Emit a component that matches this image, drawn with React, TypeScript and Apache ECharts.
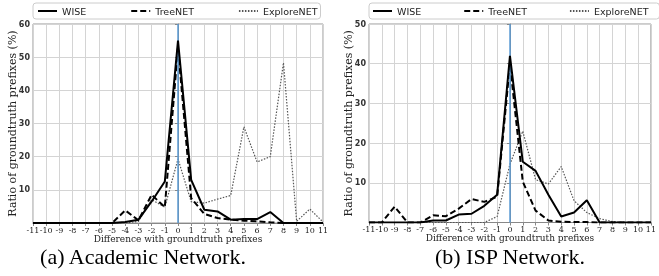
import React, { useEffect, useRef } from "react";
import * as echarts from "echarts";

const diffs = [-11, -10, -9, -8, -7, -6, -5, -4, -3, -2, -1, 0, 1, 2, 3, 4, 5, 6, 7, 8, 9, 10, 11];
const seriesNames = ["WISE", "TreeNET", "ExploreNET"];

const acadWise = [0, 0, 0, 0, 0, 0, 0, 0.3, 1, 6.5, 12.5, 55, 13, 4, 3.5, 1, 1.2, 1.2, 3.3, 0, 0, 0, 0];
const acadTree = [0, 0, 0, 0, 0, 0, 0, 3.8, 0.8, 8.5, 4.8, 53, 7.5, 2.7, 1.5, 1, 0.7, 0.5, 0.2, 0, 0, 0, 0];
const acadExplore = [0, 0, 0, 0, 0, 0, 0, 0, 0.5, 7, 4.8, 19.3, 6.4, 6, 7.2, 8.3, 29, 18.4, 20, 48.3, 0.5, 4.2, 0.3];

const ispWise = [0, 0, 0, 0, 0, 0.5, 0.5, 2, 2.2, 4.2, 7, 42, 15.3, 13, 7, 1.5, 2.5, 5.6, 0, 0, 0, 0, 0];
const ispTree = [0, 0, 4, 0, 0, 1.8, 1.6, 3.5, 5.9, 5.2, 6.5, 40, 10.3, 3, 0.5, 0.2, 0.1, 0.1, 0, 0, 0, 0, 0];
const ispExplore = [0, 0, 0, 0, 0, 0, 0, 0, 0, 0, 1.5, 14.7, 23, 10.8, 9.7, 14.1, 5.5, 2.5, 1, 0.2, 0, 0, 0];

const yMaxAcad = 60;
const yMaxIsp = 50;
const captions = ["(a) Academic Network.", "(b) ISP Network."];
const xTitle = "Difference with groundtruth prefixes";
const yTitle = "Ratio of groundtruth prefixes (%)";

const lineStyles = [
  { color: "#000", width: 2, type: "solid" as any },
  { color: "#000", width: 2, type: [6, 3] as any },
  { color: "#555", width: 1.2, type: [1.5, 1.5] as any },
];

function pairs(vals: number[]) {
  return diffs.map((d, i) => [d, vals[i]]);
}

export default function App() {
  const ref = useRef<HTMLDivElement>(null);
  useEffect(() => {
    if (!ref.current) return;
    const chart = echarts.init(ref.current, undefined, { renderer: "svg" });
    const grids = [
      { left: 33, right: 336, top: 24, bottom: 53 },
      { left: 369, right: 0, top: 24, bottom: 53.5 },
    ];
    const xAxes = grids.map((_, gi) => ({
      type: "value",
      gridIndex: gi,
      min: -11,
      max: 11,
      interval: 1,
      name: xTitle,
      nameLocation: "middle",
      nameGap: 15.5,
      nameMoveOverlap: false,
      nameTextStyle: { fontFamily: "DejaVu Serif", fontSize: 9, color: "#222", verticalAlign: "middle" },
      axisLine: { show: true, lineStyle: { color: "#888", width: 1 } },
      axisTick: { show: true, length: 3, lineStyle: { color: "#888" } },
      axisLabel: { fontFamily: "DejaVu Serif", fontSize: 8, color: "#222", margin: 3, interval: 0, showMinLabel: true, showMaxLabel: true, hideOverlap: false },
      splitLine: { show: true, lineStyle: { color: "#d4d4d4", width: 1 } },
    }));
    const yAxes = [yMaxAcad, yMaxIsp].map((m, gi) => ({
      type: "value",
      gridIndex: gi,
      min: 0,
      max: m,
      interval: 10,
      name: yTitle,
      nameLocation: "middle",
      nameGap: 21,
      nameMoveOverlap: false,
      nameTextStyle: { fontFamily: "DejaVu Serif", fontSize: 11, color: "#222", verticalAlign: "middle" },
      axisLine: { show: true, lineStyle: { color: "#888", width: 1 } },
      axisTick: { show: true, length: 3, lineStyle: { color: "#888" } },
      axisLabel: {
        fontFamily: "DejaVu Sans",
        fontWeight: "bold",
        fontSize: 8,
        color: "#333",
        margin: 3,
        formatter: (v: number) => (v === 0 ? "" : String(v)),
      },
      splitLine: { show: true, lineStyle: { color: "#d4d4d4", width: 1 } },
    }));
    const datasets = [
      [acadWise, acadTree, acadExplore],
      [ispWise, ispTree, ispExplore],
    ];
    const series: any[] = [];
    datasets.forEach((set, gi) => {
      set.forEach((vals, si) => {
        series.push({
          type: "line",
          name: seriesNames[si],
          xAxisIndex: gi,
          yAxisIndex: gi,
          data: pairs(vals),
          symbol: "none",
          lineStyle: lineStyles[si],
          itemStyle: { color: lineStyles[si].color },
          z: 3 - si + 2,
          markLine:
            si === 0
              ? {
                  silent: true,
                  symbol: "none",
                  label: { show: false },
                  lineStyle: { color: "#5b9bd5", width: 1.5, type: "solid" },
                  data: [{ xAxis: 0 }],
                }
              : undefined,
        });
      });
    });
    const legendBase = {
      data: seriesNames,
      top: 3,
      width: 300,
      itemWidth: 19,
      itemHeight: 10,
      itemStyle: { opacity: 0 },
      borderColor: "#ccc",
      borderWidth: 1,
      borderRadius: 3,
      textStyle: { fontFamily: "DejaVu Sans", fontSize: 9.5, color: "#222" },
    };
    chart.setOption({
      animation: false,
      grid: grids.map((g) => ({ ...g, show: true, borderColor: "#999", borderWidth: 1, backgroundColor: "transparent" })),
      xAxis: xAxes,
      yAxis: yAxes,
      legend: [
        { ...legendBase, left: 33, itemGap: 44, padding: [3, 3, 3, 4] },
        { ...legendBase, left: 369, itemGap: 42, padding: [3, 11, 3, 3] },
      ],
      series,
      graphic: [
        {
          type: "text",
          x: 143,
          y: 256,
          style: { text: captions[0], font: "22px 'Liberation Serif'", fill: "#000", textAlign: "center", textVerticalAlign: "middle" },
        },
        {
          type: "text",
          x: 510,
          y: 256,
          style: { text: captions[1], font: "22px 'Liberation Serif'", fill: "#000", textAlign: "center", textVerticalAlign: "middle" },
        },
      ],
    });
    return () => chart.dispose();
  }, []);
  return <div ref={ref} style={{ position: "fixed", left: 0, top: 0, width: 659, height: 276 }} />;
}
